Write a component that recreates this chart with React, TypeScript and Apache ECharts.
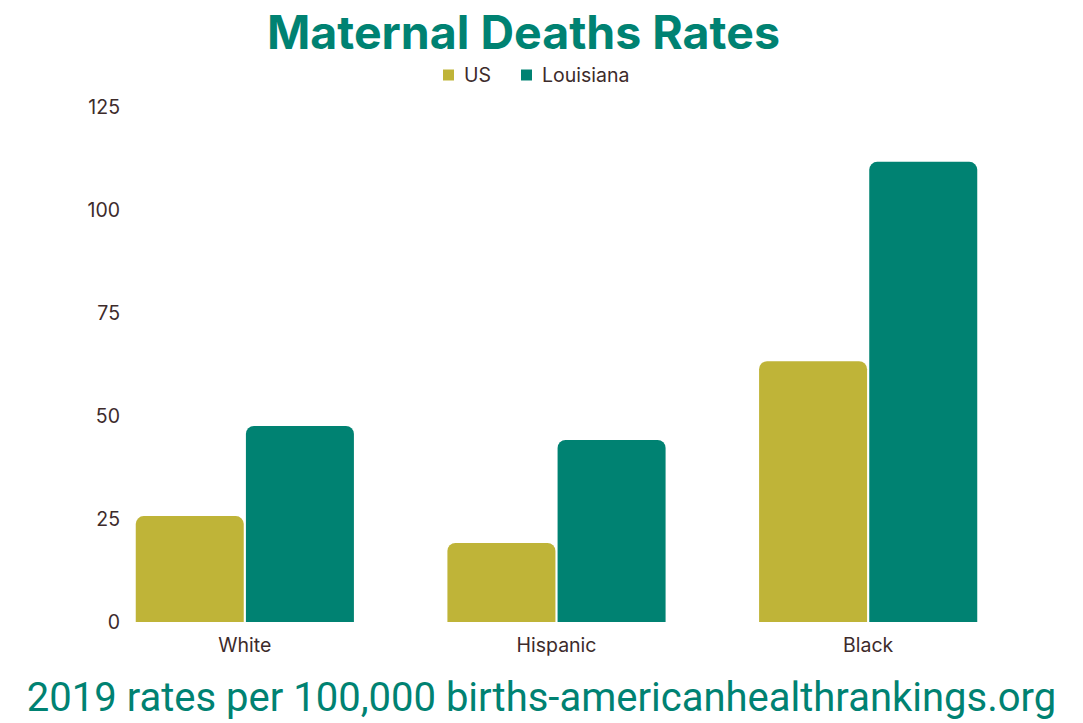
import React, { useEffect, useRef } from "react";
import * as echarts from "echarts";

const categories = ["White", "Hispanic", "Black"];
const usValues = [25.7, 19.2, 63.3];
const louisianaValues = [47.6, 44.2, 111.7];
const yTicks = { min: 0, max: 125, interval: 25 };

const TEXT = "#3d2b2b";
const OLIVE = "#bfb438";
const TEAL = "#008272";

export default function App() {
  const ref = useRef<HTMLDivElement>(null);
  useEffect(() => {
    const chart = echarts.init(ref.current!, null, { renderer: "svg" });
    chart.setOption({
      animation: false,
      backgroundColor: "#ffffff",
      title: {
        text: "Maternal Deaths Rates",
        left: 262,
        top: 3,
        textStyle: { fontFamily: "Inter", fontWeight: "bold", fontSize: 46.5, color: TEAL },
      },
      legend: {
        top: 60,
        left: 438,
        itemWidth: 11,
        itemHeight: 11,
        itemGap: 30,
        icon: "rect",
        textStyle: { fontFamily: "Inter", fontSize: 19.5, color: TEXT, padding: [0, 0, 0, 5] },
        data: ["US", "Louisiana"],
      },
      grid: { left: 89, right: 59, top: 107, bottom: 101, containLabel: false },
      xAxis: {
        type: "category",
        data: categories,
        axisLine: { show: false },
        axisTick: { show: false },
        axisLabel: { fontFamily: "Inter", fontSize: 19.5, color: TEXT, margin: 13 },
      },
      yAxis: {
        type: "value",
        min: yTicks.min,
        max: yTicks.max,
        interval: yTicks.interval,
        splitLine: { show: false },
        axisLine: { show: false },
        axisTick: { show: false },
        axisLabel: { fontFamily: "Inter", fontSize: 19.5, color: TEXT, margin: -31 },
      },
      series: [
        {
          name: "US",
          type: "bar",
          data: usValues,
          barGap: "2%",
          barCategoryGap: "30%",
          itemStyle: { color: OLIVE, borderRadius: [8, 8, 0, 0] },
        },
        {
          name: "Louisiana",
          type: "bar",
          data: louisianaValues,
          barGap: "2%",
          barCategoryGap: "30%",
          itemStyle: { color: TEAL, borderRadius: [8, 8, 0, 0] },
        },
      ],
      graphic: [
        {
          type: "text",
          left: "center",
          top: 677,
          style: {
            text: "2019 rates per 100,000 births-americanhealthrankings.org",
            fontFamily: "Roboto",
            fontSize: 40,
            fill: TEAL,
          },
        },
      ],
    });
    return () => chart.dispose();
  }, []);
  return <div ref={ref} style={{ width: 1083, height: 723, position: "absolute", left: 0, top: 0 }} />;
}
